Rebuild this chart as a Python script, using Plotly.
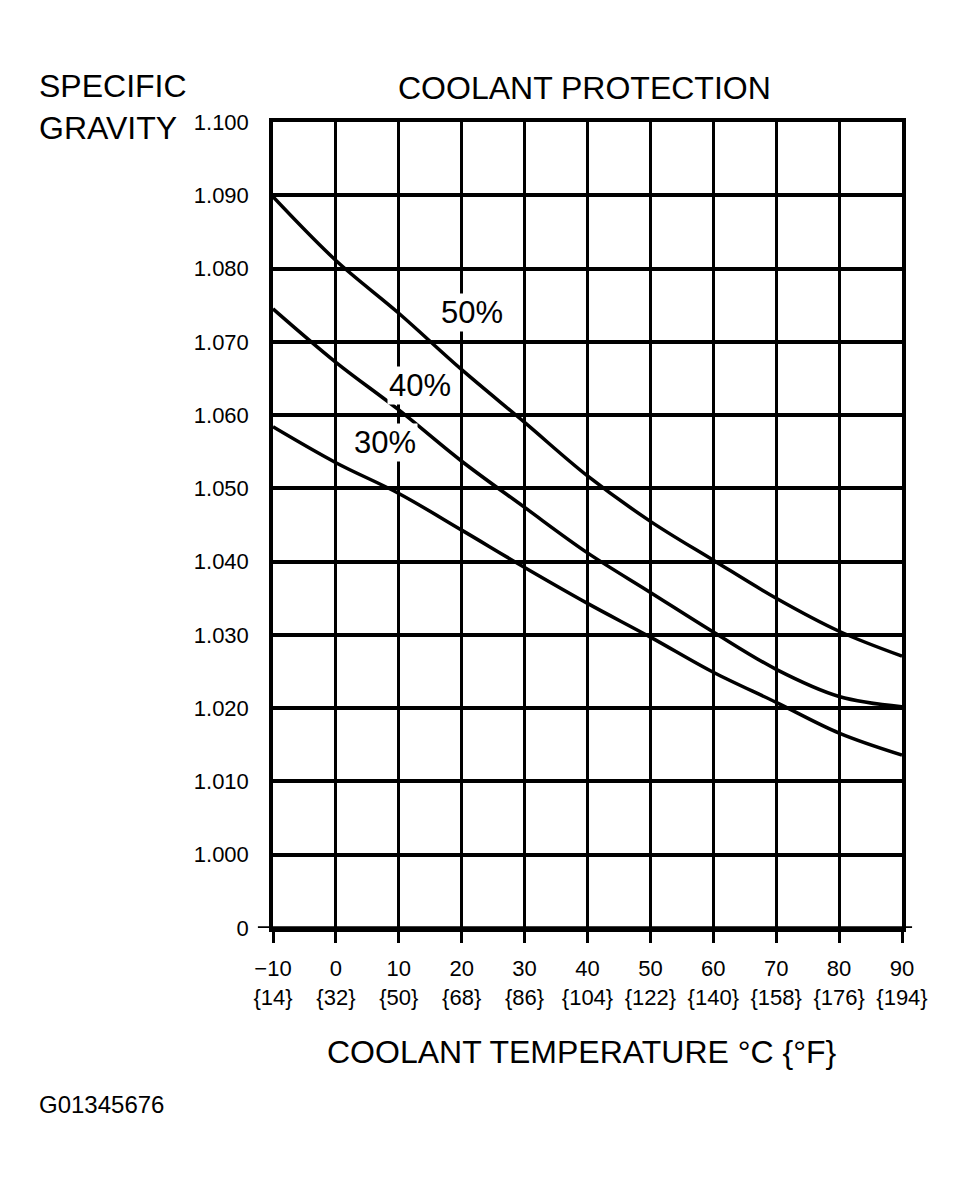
import plotly.graph_objects as go

# coolant temperature (deg C) and the matching deg F labels
temp_c = [-10, 0, 10, 20, 30, 40, 50, 60, 70, 80, 90]
temp_f = [14, 32, 50, 68, 86, 104, 122, 140, 158, 176, 194]

# specific gravity for each antifreeze concentration
sg_50 = [1.0898, 1.0811, 1.0739, 1.0662, 1.0590, 1.0517, 1.0455, 1.0402, 1.0350, 1.0305, 1.0271]
sg_40 = [1.0745, 1.0672, 1.0607, 1.0537, 1.0474, 1.0412, 1.0358, 1.0304, 1.0253, 1.0216, 1.0202]
sg_30 = [1.0584, 1.0535, 1.0493, 1.0443, 1.0392, 1.0343, 1.0297, 1.0249, 1.0208, 1.0166, 1.0136]

# y ticks: bottom line is labelled "0"
y_vals = [0.990, 1.000, 1.010, 1.020, 1.030, 1.040, 1.050, 1.060, 1.070, 1.080, 1.090, 1.100]
y_text = ["0", "1.000", "1.010", "1.020", "1.030", "1.040", "1.050",
          "1.060", "1.070", "1.080", "1.090", "1.100"]

# curve labels (text, x, y)
lbl_text = ["50%", "40%", "30%"]
lbl_x = [21.6, 13.4, 7.8]
lbl_y = [1.0740, 1.0641, 1.0562]

FONT = "Liberation Sans, Arial, Helvetica, sans-serif"

fig = go.Figure()
for s in [sg_50, sg_40, sg_30]:
    fig.add_trace(go.Scatter(x=temp_c, y=s, mode="lines",
                             line=dict(color="black", width=3.5, shape="spline"),
                             showlegend=False, hoverinfo="skip"))

for t, x, y in zip(lbl_text, lbl_x, lbl_y):
    fig.add_annotation(x=x, y=y, text=t, showarrow=False,
                       font=dict(size=31, color="black", family=FONT),
                       bgcolor="white", borderpad=1)

x_text = [("\u2212" + str(-c) if c < 0 else str(c)) + "<br>{" + str(f) + "}"
          for c, f in zip(temp_c, temp_f)]

fig.update_xaxes(range=[-10, 90], tickvals=temp_c, ticktext=x_text,
                 showgrid=True, gridcolor="black", gridwidth=3,
                 showline=True, linecolor="black", linewidth=3.5, mirror=True,
                 ticks="outside", ticklen=11, tickwidth=3, tickcolor="black",
                 ticklabelstandoff=7,
                 tickfont=dict(size=22, color="black", family=FONT),
                 zeroline=False, fixedrange=True)
fig.update_yaxes(range=[0.990, 1.100], tickvals=y_vals, ticktext=y_text,
                 showgrid=True, gridcolor="black", gridwidth=3.5,
                 showline=True, linecolor="black", linewidth=3.5, mirror=True,
                 ticks="", ticklabelstandoff=16,
                 tickfont=dict(size=22, color="black", family=FONT),
                 zeroline=False, fixedrange=True)

# bottom baseline runs a little past the grid on both sides
fig.add_shape(type="line", xref="paper", yref="y", x0=-0.024, x1=1.016,
              y0=0.990, y1=0.990, line=dict(color="black", width=3.5))

txt = dict(showarrow=False, xref="paper", yref="paper",
           font=dict(size=32, color="black", family=FONT))
fig.add_annotation(text="SPECIFIC<br>GRAVITY", x=-0.375, y=1.018, xanchor="left",
                   yanchor="middle", align="left", **txt)
fig.add_annotation(text="COOLANT PROTECTION", x=0.496, y=1.042, xanchor="center",
                   yanchor="middle", **txt)
fig.add_annotation(text="COOLANT TEMPERATURE \u00b0C {\u00b0F}", x=0.491, y=-0.154,
                   xanchor="center", yanchor="middle", **txt)
fig.add_annotation(text="G01345676", x=-0.375, y=-0.2196, xanchor="left",
                   yanchor="middle", showarrow=False, xref="paper", yref="paper",
                   font=dict(size=24, color="black", family=FONT))

fig.update_layout(width=975, height=1188,
                  margin=dict(l=265, r=81, t=114, b=268),
                  plot_bgcolor="white", paper_bgcolor="white")

fig.write_html("out.html")
